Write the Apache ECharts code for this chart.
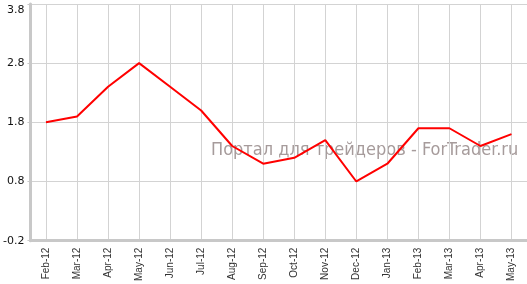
<!DOCTYPE html>
<html><head><meta charset="utf-8">
<script src="https://cdn.jsdelivr.net/npm/echarts@6/dist/echarts.min.js"></script>
<style>html,body{margin:0;padding:0;background:#fff}#c{width:527px;height:284px}</style>
</head><body><div id="c"></div>
<script>
const categories = ['Feb-12','Mar-12','Apr-12','May-12','Jun-12','Jul-12','Aug-12','Sep-12','Oct-12','Nov-12','Dec-12','Jan-13','Feb-13','Mar-13','Apr-13','May-13'];
const values = [1.8, 1.9, 2.4, 2.8, 2.4, 2.0, 1.4, 1.1, 1.2, 1.5, 0.8, 1.1, 1.7, 1.7, 1.4, 1.6];
const yTicks = [-0.2, 0.8, 1.8, 2.8, 3.8];
const watermark = 'Портал для трейдеров - ForTrader.ru';

const chart = echarts.init(document.getElementById('c'));
chart.setOption({
  animation: false,
  grid: { left: 27, right: -4, top: 4, bottom: 43 },
  graphic: [{
    type: 'text', left: 211, top: 141, z: -10, silent: true,
    style: { text: watermark, font: '18px "DejaVu Sans Condensed"', fill: '#a69b9b' }
  }],
  xAxis: {
    type: 'category', data: categories, boundaryGap: true,
    axisLine: { onZero: false, lineStyle: { color: '#c8c8c8', width: 3 } },
    axisTick: { show: false },
    splitLine: { show: true, alignWithLabel: true, lineStyle: { color: '#d3d3d3', width: 1 } },
    axisLabel: { rotate: 90, interval: 0, fontSize: 10, fontFamily: 'Liberation Sans', color: '#333', margin: 7 }
  },
  yAxis: {
    type: 'value', min: -0.2, max: 3.8, interval: 1,
    axisLine: { show: true, lineStyle: { color: '#c8c8c8', width: 3 } },
    axisTick: { show: true, length: 3, lineStyle: { color: '#c8c8c8' } },
    splitLine: { show: true, lineStyle: { color: '#d3d3d3', width: 1 } },
    axisLabel: { fontSize: 11, fontFamily: 'DejaVu Sans', color: '#111', margin: 6,
      rich: { top: { fontSize: 11, fontFamily: 'DejaVu Sans', color: '#111', padding: [12, 0, 0, 0] } },
      formatter: v => {
        const t = yTicks.find(t => Math.abs(t - v) < 1e-6);
        if (t === undefined) return '';
        return t === yTicks[yTicks.length - 1] ? '{top|' + t.toFixed(1) + '}' : t.toFixed(1);
      } }
  },
  series: [{
    type: 'line', data: values, showSymbol: false, z: 5,
    lineStyle: { color: '#ff0000', width: 2 }
  }]
});
</script></body></html>
